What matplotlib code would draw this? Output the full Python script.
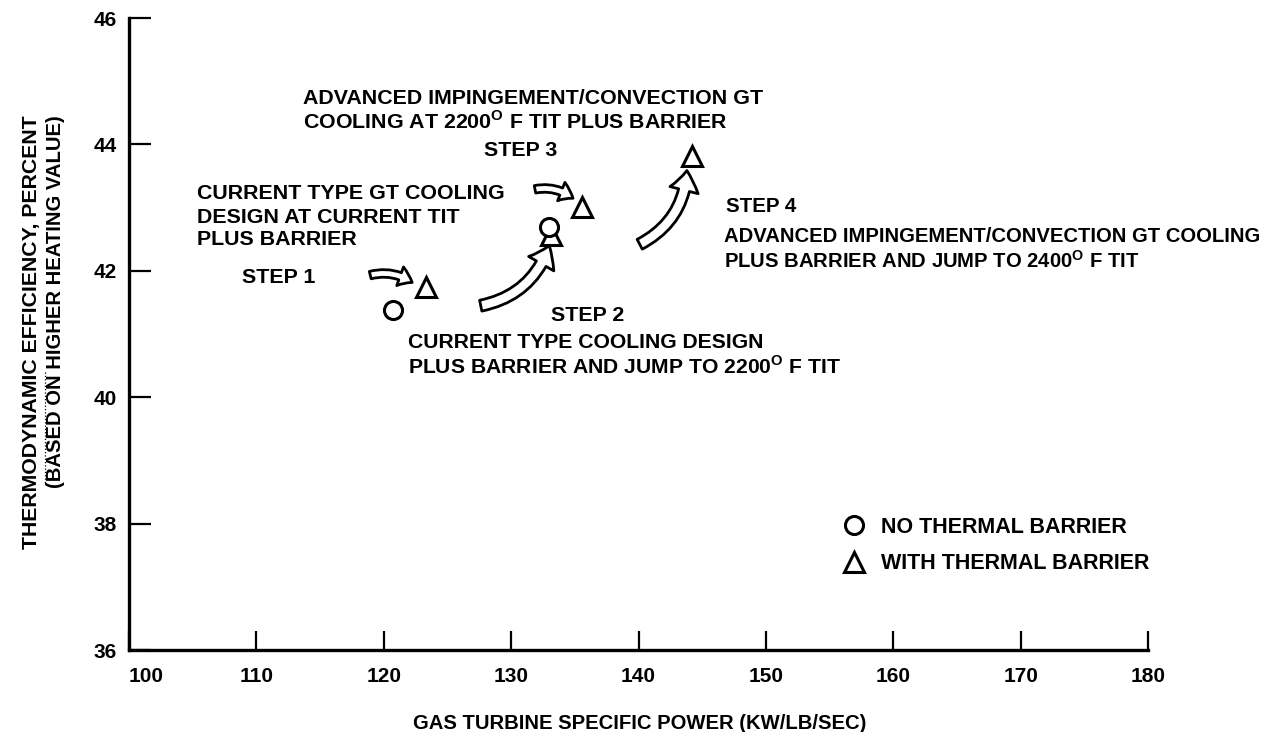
import numpy as np
import matplotlib
matplotlib.use("Agg")
import matplotlib.pyplot as plt
from matplotlib.patches import FancyArrowPatch
from matplotlib.lines import Line2D
from matplotlib.transforms import Affine2D

plt.rcParams['font.family'] = ['Liberation Sans', 'DejaVu Sans']
plt.rcParams['font.weight'] = 'bold'
plt.rcParams['mathtext.fontset'] = 'custom'
plt.rcParams['mathtext.rm'] = 'Liberation Sans:bold'
plt.rcParams['mathtext.bf'] = 'Liberation Sans:bold'

# values
no_barrier_power = [120.7, 133.0]
no_barrier_eff = [41.38, 42.69]
barrier_power = [123.3, 133.15, 135.6, 144.2]
barrier_eff = [41.74, 42.56, 43.01, 43.81]

x_ticks = [100, 110, 120, 130, 140, 150, 160, 170, 180]
y_ticks = [36, 38, 40, 42, 44, 46]

# note lines: (x, y, text, size)
notes = [
    (113.64, 44.73, "ADVANCED IMPINGEMENT/CONVECTION GT", 15.4),
    (113.64, 44.37, r"COOLING AT 2200$^{\mathbf{O}}$ F TIT PLUS BARRIER", 15.4),
    (127.9, 43.91, "STEP 3", 15.4),
    (105.33, 43.23, "CURRENT TYPE GT COOLING", 15.4),
    (105.33, 42.85, "DESIGN AT CURRENT TIT", 15.4),
    (105.33, 42.49, "PLUS BARRIER", 15.4),
    (108.86, 41.90, "STEP 1", 15.4),
    (133.15, 41.30, "STEP 2", 15.4),
    (121.87, 40.86, "CURRENT TYPE COOLING DESIGN", 15.2),
    (121.87, 40.48, r"PLUS BARRIER AND JUMP TO 2200$^{\mathbf{O}}$ F TIT", 15.2),
    (146.9, 43.02, "STEP 4", 14.8),
    (146.7, 42.55, "ADVANCED IMPINGEMENT/CONVECTION GT COOLING", 14.6),
    (146.7, 42.16, r"PLUS BARRIER AND JUMP TO 2400$^{\mathbf{O}}$ F TIT", 14.6),
]

# step arrows: (x0, y0, x1, y1, bend, scale)
arrows = [
    (118.73, 41.92, 122.41, 41.79, -0.25, 13),
    (131.66, 43.28, 135.03, 43.12, -0.25, 13),
    (127.4, 41.44, 133.07, 42.44, 0.3, 19),
    (139.9, 42.40, 143.81, 43.63, 0.3, 19),
]

fig = plt.figure(figsize=(12.71, 7.32), dpi=100)
ax = fig.add_axes([129 / 1271, 82 / 732, 1019 / 1271, 632 / 732])

tri, = ax.plot(barrier_power, barrier_eff, ls='none', marker='^', ms=15,
               mfc='white', mec='black', mew=2.2, label='WITH THERMAL BARRIER', zorder=3)
circ, = ax.plot(no_barrier_power, no_barrier_eff, ls='none', marker='o', ms=13,
                mfc='white', mec='black', mew=2.2, label='NO THERMAL BARRIER', zorder=4)

for x0, y0, x1, y1, rad, sc in arrows:
    a = FancyArrowPatch((x0, y0), (x1, y1),
                        arrowstyle="simple,head_length=0.75,head_width=1.1,tail_width=0.42",
                        connectionstyle="arc3,rad=%s" % rad, mutation_scale=sc,
                        fc='white', ec='black', lw=2.0, zorder=2)
    ax.add_patch(a)

for x, y, s, fs in notes:
    ax.text(x, y, s, ha='left', va='center', fontsize=fs, fontweight='bold')

ax.set_xlim(100, 180)
ax.set_ylim(36, 46)
ax.set_xticks(x_ticks)
ax.set_yticks(y_ticks)
ax.tick_params(axis='x', direction='in', length=14, width=1.6, pad=12, labelsize=15)
ax.tick_params(axis='y', direction='in', length=16, width=1.6, pad=9, labelsize=15)
ax.get_xticklabels()[0].set_ha('left')
for side in ['top', 'right']:
    ax.spines[side].set_visible(False)
for side in ['left', 'bottom']:
    ax.spines[side].set_linewidth(2.4)

ax.set_xlabel("GAS TURBINE SPECIFIC POWER (KW/LB/SEC)", fontsize=14.6, fontweight='bold')
ax.xaxis.set_label_coords((640 - 129) / 1019, (650 - 714) / 632)

# two-line y label, placed in pixels
px = Affine2D().scale(1, -1).translate(0, 732)
fig.text(32, 332, "THERMODYNAMIC EFFICIENCY, PERCENT", rotation=90, ha='center',
         va='center', fontsize=15.3, fontweight='bold', transform=px)
fig.text(56, 302, "(BASED ON HIGHER HEATING VALUE)", rotation=90, ha='center',
         va='center', fontsize=14.6, fontweight='bold', transform=px)
fig.add_artist(Line2D([44.5, 44.5], [372, 483], ls=':', lw=0.9, color='black', transform=px))

leg = ax.legend(handles=[circ, tri], loc='center left',
                bbox_to_anchor=((843 - 129) / 1019, (650 - 545.5) / 632),
                frameon=False, borderaxespad=0, borderpad=0, handlelength=1.0,
                handletextpad=0.75, labelspacing=0.7, fontsize=15.5)

fig.savefig("out.png", dpi=100, facecolor='white')
